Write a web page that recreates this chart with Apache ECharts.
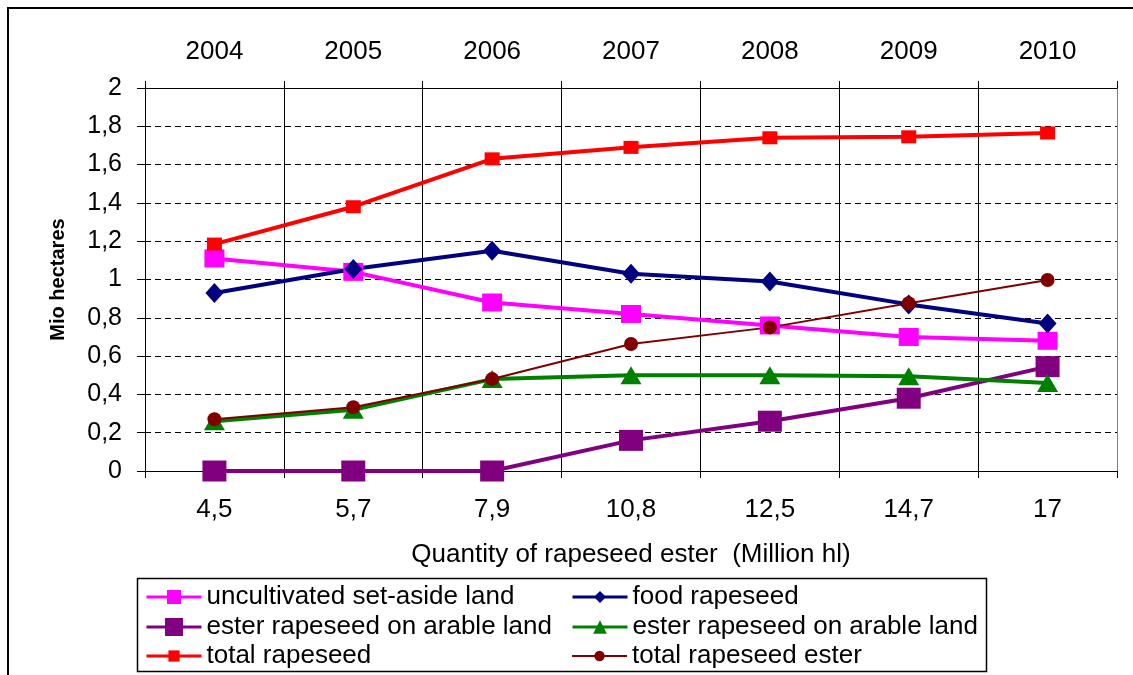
<!DOCTYPE html>
<html><head><meta charset="utf-8">
<script src="https://cdn.jsdelivr.net/npm/echarts@6/dist/echarts.min.js"></script>
<style>html,body{margin:0;padding:0;background:#fff}#c{width:1133px;height:675px}</style>
</head><body><div id="c"></div>
<script>
// ---- data ----
const quantities = ['4,5', '5,7', '7,9', '10,8', '12,5', '14,7', '17'];
const years = ['2004', '2005', '2006', '2007', '2008', '2009', '2010'];
const uncultivatedSetAside = [1.11, 1.04, 0.88, 0.82, 0.76, 0.70, 0.68];
const foodRapeseed = [0.93, 1.055, 1.15, 1.03, 0.99, 0.87, 0.77];
const esterArablePurple = [0, 0, 0, 0.16, 0.26, 0.38, 0.545];
const esterArableGreen = [0.26, 0.32, 0.48, 0.50, 0.50, 0.495, 0.46];
const totalRapeseed = [1.185, 1.38, 1.63, 1.69, 1.74, 1.745, 1.765];
const totalRapeseedEster = [0.27, 0.333, 0.48, 0.663, 0.75, 0.876, 0.997];
const seriesNames = ['uncultivated set-aside land', 'food rapeseed', 'ester rapeseed on arable land',
  'ester rapeseed on arable land ', 'total rapeseed', 'total rapeseed ester'];

const FONT = 'Liberation Sans, Arial, sans-serif';
const chart = echarts.init(document.getElementById('c'));

function mkSeries(name, data, color, symbol, size, width) {
  return {
    name: name, type: 'line', data: data, symbol: symbol, symbolSize: size,
    showSymbol: true, color: color,
    lineStyle: { color: color, width: width },
    itemStyle: { color: color, borderWidth: 0 },
    emphasis: { disabled: true }
  };
}
function mkLegend(name, left, center, ih, lw) {
  return {
    data: [name], left: left, top: center - 12, orient: 'vertical', padding: 0,
    itemWidth: 55, itemHeight: ih, selectedMode: false,
    lineStyle: { width: lw },
    textStyle: { fontFamily: FONT, fontSize: 26, lineHeight: 24, color: '#000' }
  };
}
const labelStyle = { fontFamily: FONT, fontSize: 26, color: '#000' };

chart.setOption({
  animation: false,
  backgroundColor: '#fff',
  grid: { left: 145, top: 88, right: 16, bottom: 204, containLabel: false },
  graphic: [
    { type: 'rect', shape: { x: 8, y: 8, width: 1400, height: 1000 },
      style: { fill: 'none', stroke: '#000', lineWidth: 2 }, silent: true },
    { type: 'rect', shape: { x: 137.5, y: 578.5, width: 849, height: 93 },
      style: { fill: '#fff', stroke: '#000', lineWidth: 1.5 }, silent: true }
  ],
  legend: [
    mkLegend(seriesNames[0], 145, 596, 17.5, 3),
    mkLegend(seriesNames[1], 571, 596, 15, 3),
    mkLegend(seriesNames[2], 145, 626, 22.5, 3),
    mkLegend(seriesNames[3], 571, 626, 17, 3),
    mkLegend(seriesNames[4], 145, 655, 14, 3),
    mkLegend(seriesNames[5], 571, 655, 13, 2)
  ],
  xAxis: [
    {
      type: 'category', data: quantities, position: 'bottom', boundaryGap: true,
      axisLine: { lineStyle: { color: '#000', width: 1 } },
      axisTick: { show: true, interval: 0, length: 7, lineStyle: { color: '#000' } },
      axisLabel: Object.assign({ interval: 0, margin: 26 }, labelStyle),
      splitLine: { show: true, interval: 0,
        lineStyle: { width: 1, color: ['#000', '#000', '#000', '#000', '#000', '#000', '#000', '#808080'] } },
      name: 'Quantity of rapeseed ester  (Million hl)', nameLocation: 'middle', nameGap: 71,
      nameTextStyle: labelStyle
    },
    {
      type: 'category', data: years, position: 'top', boundaryGap: true,
      axisLine: { lineStyle: { color: '#000', width: 1 } },
      axisTick: { show: true, interval: 0, length: 7, lineStyle: { color: '#000' } },
      axisLabel: Object.assign({ interval: 0, margin: 23 }, labelStyle),
      splitLine: { show: false }
    }
  ],
  yAxis: {
    type: 'value', min: 0, max: 2, interval: 0.2,
    axisLine: { show: true, lineStyle: { color: '#000', width: 1 } },
    axisTick: { show: true, length: 8, lineStyle: { color: '#000' } },
    axisLabel: { margin: 23, fontFamily: FONT, fontSize: 25, color: '#000',
      formatter: v => String(+v.toFixed(1)).replace('.', ',') },
    splitLine: { show: true, lineStyle: { color: '#000', width: 1, type: [6, 4] } },
    name: 'Mio hectares', nameLocation: 'middle', nameGap: 77, nameRotate: 90,
    nameTextStyle: { fontFamily: FONT, fontSize: 20, fontWeight: 'bold', color: '#000' }
  },
  series: [
    mkSeries(seriesNames[0], uncultivatedSetAside, '#FF00FF', 'rect', [20, 18], 4),
    mkSeries(seriesNames[1], foodRapeseed, '#000080', 'diamond', [18, 20], 4),
    mkSeries(seriesNames[2], esterArablePurple, '#800080', 'rect', [24, 21], 4),
    mkSeries(seriesNames[3], esterArableGreen, '#008000', 'triangle', [21, 18], 4),
    mkSeries(seriesNames[4], totalRapeseed, '#FF0000', 'rect', [15, 13], 4),
    mkSeries(seriesNames[5], totalRapeseedEster, '#800000', 'circle', 14, 2)
  ]
});
</script></body></html>
